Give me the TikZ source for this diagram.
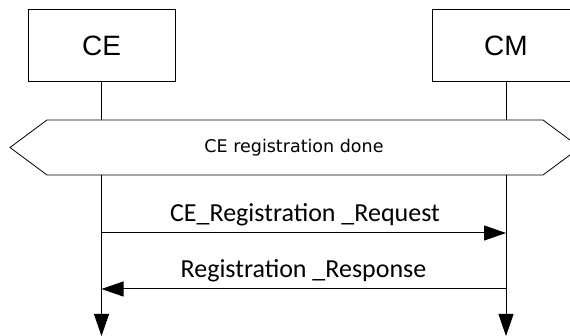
\documentclass[tikz,border=0pt]{standalone}
\usepackage{fontspec}
\setmainfont{Liberation Sans}
\newfontfamily\msgfont{Carlito}
\newfontfamily\statefont{DejaVu Sans}
\usetikzlibrary{arrows.meta}
\tikzset{
  entity/.style={draw, line width=1pt, minimum width=147pt, minimum height=72pt, font=\fontsize{28}{30}\selectfont},
  lifeline/.style={line width=1pt},
  msg/.style={line width=1pt, -{Triangle[length=22pt,width=15pt]}},
  msglabel/.style={font=\msgfont\fontsize{26}{28}\selectfont}
}
\begin{document}
\begin{tikzpicture}[x=1pt, y=-1pt]
      \useasboundingbox (0,0) rectangle (570,336);
      \begin{scope}
        \clip (0,0) rectangle (570,336);
        % entities
        \node[entity] (ce) at (101.5,46) {CE};
        \node[entity] (cm) at (506,46) {CM};
        % shared state hexagon
        \draw[line width=0.8pt] (10,147.5) -- (47,120) -- (543,120) -- (580,147.5) -- (543,175) -- (47,175) -- cycle;
        \node[font=\statefont\fontsize{17.5}{20}\selectfont] (done) at (294,147.5) {CE registration done};
        \coordinate (ceup) at (101.5,120);
        \coordinate (cmup) at (506,120);
        \coordinate (celow) at (101.5,175);
        \coordinate (cmlow) at (506,175);
        \coordinate (ceend) at (101.5,336);
        \coordinate (cmend) at (506,336);
        \coordinate (req1) at (101.5,233);
        \coordinate (req2) at (506,233);
        \coordinate (res1) at (506,289);
        \coordinate (res2) at (101.5,289);
      \end{scope}
      % lifelines
      \draw[lifeline] (ce.south) -- (ceup);
      \draw[lifeline] (cm.south) -- (cmup);
      \draw[msg] (celow) -- (ceend);
      \draw[msg] (cmlow) -- (cmend);
      % messages
      \draw[msg] (req1) -- (req2);
      \node[msglabel] (reqlabel) at (305,215) {CE\_Registration \_Request};
      \draw[msg] (res1) -- (res2);
      \node[msglabel] (reslabel) at (303.5,271) {Registration \_Response};
    \end{tikzpicture}
\end{document}
